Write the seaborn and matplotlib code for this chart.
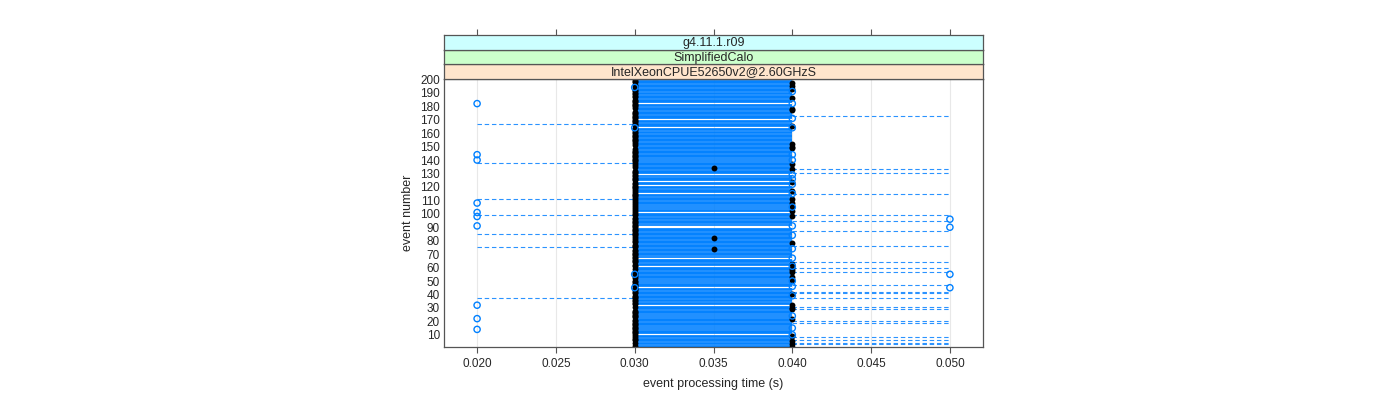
import numpy as np
import pandas as pd
import seaborn as sns
import matplotlib
matplotlib.use("Agg")
import matplotlib.pyplot as plt

# ---- data (event number vs processing time) ----
n_events = 200
event_numbers = np.arange(1, n_events + 1)

# rows of the dense 0.030-0.040 band that are left empty
block_gap_events = [182, 170, 164, 140, 129, 124, 121, 115, 105, 101,
                    91, 90, 67, 61, 50, 45, 32, 24, 15, 10]
block_range = (0.030, 0.040)

# dashed segments sticking out of the band
left_seg_events = [167, 138, 111, 99, 85, 75, 37]
left_range = (0.020, 0.030)
right_seg_events = [173, 133, 130, 115, 99, 95, 87, 76, 64, 60, 57, 47,
                    42, 41, 37, 31, 29, 20, 19, 8, 6, 4, 3]
right_range = (0.040, 0.050)

# open blue circles
blue_t020 = [182, 144, 140, 108, 101, 98, 91, 32, 22, 14]
blue_t030 = [194, 164, 55, 45]
blue_t040 = [191, 182, 171, 164, 144, 140, 129, 126, 122, 115, 105, 91,
             84, 74, 67, 61, 50, 46, 39, 24, 15, 10]
blue_t050 = [96, 90, 55, 45]

# filled black dots (events not listed sit at 0.030)
black_t035 = [134, 82, 74]
black_t040 = [197, 195, 193, 186, 178, 177, 165, 152, 150, 149, 137, 133,
              124, 117, 111, 108, 105, 102, 98, 78, 63, 60, 58, 57, 53, 51,
              40, 32, 30, 29, 22, 9, 5, 3, 1]

strip_labels = ["IntelXeonCPUE52650v2@2.60GHzS", "SimplifiedCalo", "g4.11.1.r09"]
strip_colors = ["#ffe5cc", "#ccffcc", "#ccffff"]
x_ticks = [0.020, 0.025, 0.030, 0.035, 0.040, 0.045, 0.050]
y_ticks = list(range(10, 201, 10))

# ---- build tables ----
block_events = [e for e in event_numbers if e not in block_gap_events]

blue = pd.concat([
    pd.DataFrame({"time": 0.020, "event": blue_t020}),
    pd.DataFrame({"time": 0.030, "event": blue_t030}),
    pd.DataFrame({"time": 0.040, "event": blue_t040}),
    pd.DataFrame({"time": 0.050, "event": blue_t050}),
])
black_time = pd.Series(0.030, index=event_numbers)
black_time[black_t035] = 0.035
black_time[black_t040] = 0.040
black = pd.DataFrame({"time": black_time.values, "event": event_numbers})

# ---- plot ----
sns.set_style("white")
plt.rcParams["font.family"] = ["Liberation Sans", "DejaVu Sans"]
blue_col = "#0080ff"
dash_col = "#2b93ff"
frame_col = "#555555"

fig = plt.figure(figsize=(14, 4), dpi=100)
ax = fig.add_axes([444 / 1400, 53 / 400, 539 / 1400, 268 / 400])

for x in x_ticks:
    ax.axvline(x, color="#e8e8e8", lw=0.8, zorder=0)

ax.hlines(block_events, *block_range, color=blue_col, lw=1.25, zorder=1)
ax.hlines(left_seg_events, *left_range, color=dash_col, lw=0.8,
          linestyle=(0, (4, 2.5)), zorder=1)
ax.hlines(right_seg_events, *right_range, color=dash_col, lw=0.8,
          linestyle=(0, (4, 2.5)), zorder=1)

sns.scatterplot(data=black, x="time", y="event", ax=ax, color="black",
                s=18, linewidth=0, zorder=2, legend=False)
sns.scatterplot(data=blue, x="time", y="event", ax=ax, marker="o", s=20,
                facecolors="none", edgecolor=blue_col, linewidth=1.0,
                zorder=3, legend=False)

ax.set_xlim(0.0179, 0.0521)
ax.set_ylim(0.9, 200.3)
ax.set_xticks(x_ticks)
ax.set_xticklabels([f"{v:.3f}" for v in x_ticks], fontsize=8.5)
ax.set_yticks(y_ticks)
ax.set_yticklabels([str(v) for v in y_ticks], fontsize=8.5)
ax.tick_params(axis="x", direction="out", length=4, width=0.8,
               color=frame_col, pad=4, bottom=True)
ax.tick_params(axis="y", length=0, pad=3)
ax.set_xlabel("event processing time (s)", fontsize=9, labelpad=6)
ax.set_ylabel("event number", fontsize=9, labelpad=4)
for sp in ax.spines.values():
    sp.set_color(frame_col)
    sp.set_linewidth(0.9)

# strips above the panel
strip_h = 14.7 / 400
for i, (lab, col) in enumerate(zip(strip_labels, strip_colors)):
    sax = fig.add_axes([444 / 1400, 321 / 400 + i * strip_h, 539 / 1400, strip_h])
    sax.set_facecolor(col)
    sax.set_xlim(ax.get_xlim())
    sax.set_yticks([])
    sax.text(0.5, 0.45, lab, transform=sax.transAxes, ha="center",
             va="center", fontsize=9)
    for sp in sax.spines.values():
        sp.set_color(frame_col)
        sp.set_linewidth(0.9)
    if i == len(strip_labels) - 1:
        sax.set_xticks(x_ticks)
        sax.tick_params(axis="x", top=True, bottom=False, labeltop=False,
                        labelbottom=False, direction="out", length=4,
                        width=0.8, color=frame_col)
    else:
        sax.set_xticks([])

fig.savefig("out.png", dpi=100)
